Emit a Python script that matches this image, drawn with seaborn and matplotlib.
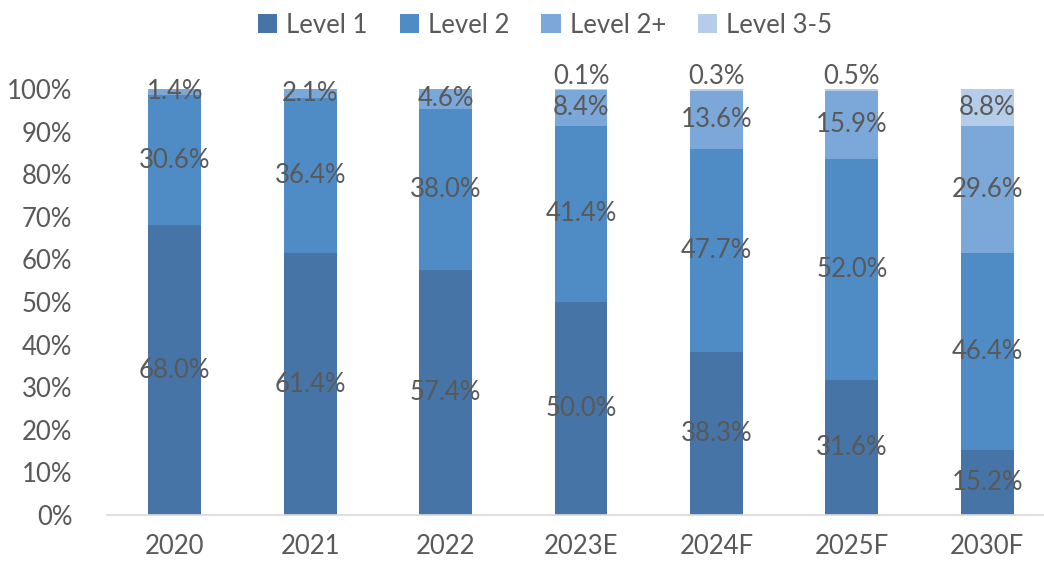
import numpy as np
import pandas as pd
import matplotlib
matplotlib.use("Agg")
import matplotlib.pyplot as plt
import seaborn as sns
from matplotlib.patches import Patch

# Autonomous-driving level penetration shares (%)
years = ["2020", "2021", "2022", "2023E", "2024F", "2025F", "2030F"]
level_1 = [68.0, 61.4, 57.4, 50.0, 38.3, 31.6, 15.2]
level_2 = [30.6, 36.4, 38.0, 41.4, 47.7, 52.0, 46.4]
level_2p = [1.4, 2.1, 4.6, 8.4, 13.6, 15.9, 29.6]
level_35 = [0.0, 0.0, 0.0, 0.1, 0.3, 0.5, 8.8]

series_names = ["Level 1", "Level 2", "Level 2+", "Level 3-5"]
series_vals = [level_1, level_2, level_2p, level_35]
colors = ["#4674a7", "#4f8cc6", "#7ca7d9", "#b6cdea"]
text_color = "#595959"

sns.set_theme(style="white")
plt.rcParams["font.family"] = ["Lato", "DejaVu Sans"]
fs = 18.5

fig = plt.figure(figsize=(10.44, 5.63), dpi=100)
ax = fig.add_axes([107 / 1044, 48 / 563, (1055 - 107) / 1044, 426 / 563])

# Stack by drawing cumulative totals from the top series down
vals = np.array(series_vals)
cum = np.cumsum(vals, axis=0)
for i in range(len(series_names) - 1, -1, -1):
    df = pd.DataFrame({"year": years, "value": cum[i] / 100.0})
    sns.barplot(data=df, x="year", y="value", color=colors[i], width=0.39,
                saturation=1, ax=ax, errorbar=None, linewidth=0)

# Segment labels
for j in range(len(years)):
    base = 0.0
    for i in range(len(series_names)):
        v = vals[i, j]
        if v > 0:
            if v < 1.0:
                y = (cum[i, j] + 3.0) / 100.0
            else:
                y = (base + v / 2) / 100.0
            ax.text(j, y, f"{v:.1f}%", ha="center", va="center",
                    fontsize=fs, color=text_color, clip_on=False)
        base += v

ax.set_ylim(0, 1.0)
ax.set_xlim(-0.5, len(years) - 0.5)
ax.set_yticks(np.arange(0, 1.01, 0.1))
ax.set_yticklabels([f"{int(round(t * 100))}%" for t in np.arange(0, 1.01, 0.1)])
ax.tick_params(axis="y", labelsize=fs, colors=text_color, length=0, pad=25)
ax.tick_params(axis="x", labelsize=fs, colors=text_color, length=0, pad=14)
ax.set_xlabel("")
ax.set_ylabel("")
for s in ["top", "right", "left"]:
    ax.spines[s].set_visible(False)
ax.spines["bottom"].set_color("#d9d9d9")
ax.spines["bottom"].set_linewidth(1.2)
ax.grid(False)

handles = [Patch(facecolor=c, edgecolor="none") for c in colors]
fig.legend(handles, series_names, loc="center", bbox_to_anchor=(0.522, 0.955),
           ncol=4, frameon=False, fontsize=fs, handlelength=0.75, handleheight=0.75,
           handletextpad=0.35, columnspacing=1.25, labelcolor=text_color)

fig.savefig("out.png", dpi=100)
